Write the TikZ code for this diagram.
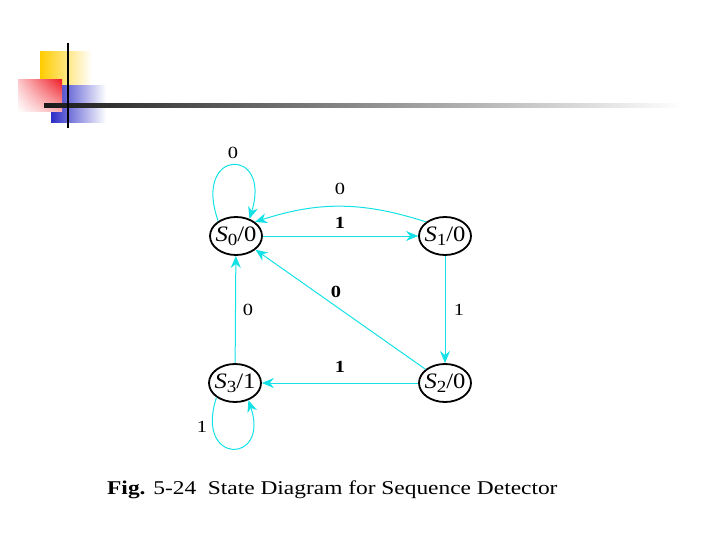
\documentclass[tikz,border=0pt]{standalone}
\usepackage{fontspec}
\setmainfont{Liberation Serif}
\usetikzlibrary{arrows.meta, shapes.geometric, shadings}

\definecolor{edgecyan}{RGB}{20,225,230}
\definecolor{logoyellow}{RGB}{255,204,0}
\definecolor{logored}{RGB}{240,30,40}
\definecolor{logoblue}{RGB}{45,45,200}

% state name S_i/o, slightly widened like the scanned figure
\newcommand{\stname}[2]{\makebox[0pt]{\scalebox{1.12}[1]{\textit{S}\raisebox{-4pt}{\fontsize{17}{17}\selectfont #1}/#2}}}
\newcommand{\wide}[1]{\scalebox{1.2}[1]{#1}}

\begin{document}
\begin{tikzpicture}[
    x=1pt, y=-1pt,
    state/.style={draw, ellipse, line width=1.8pt, minimum width=52pt,
                  minimum height=38pt, inner sep=0pt,
                  font=\fontsize{22}{24}\selectfont},
    edge/.style={-{Stealth[length=12pt, width=10pt]}, edgecyan, line width=1pt},
    lbl/.style={font=\fontsize{17}{18}\selectfont},
    blbl/.style={font=\fontsize{17}{18}\selectfont\bfseries},
]
    \useasboundingbox (0,0) rectangle (720,540);

    %==================== TITLE DECORATION ====================
    \shade[left color=logoyellow, middle color=logoyellow!85, right color=white]
        (40,52) rectangle (92,87);
    \shade[left color=logoblue, middle color=logoblue!85, right color=white]
        (51,86) rectangle (106,123);
    \shade[upper right=logored, upper left=logored!25, lower right=logored!35,
           lower left=white] (18,80) rectangle (62,112);
    \shade[left color=black!90, middle color=black!50, right color=white]
        (44,104) rectangle (682,108);
    \draw[line width=2.6pt] (68,43) -- (68,128);

    %==================== STATES ====================
    \node[state] (s0) at (236,236) {\stname{0}{0}};
    \node[state] (s1) at (445,236) {\stname{1}{0}};
    \node[state] (s2) at (445,383) {\stname{2}{0}};
    \node[state] (s3) at (235,383) {\stname{3}{1}};

    %==================== TRANSITIONS ====================
    \draw[edge] (s0.140) .. controls (192,148) and (272,146) .. (s0.52);
    \node[lbl] (l00) at (233,153) {\wide{0}};

    \draw[edge] (s1.north west) to[bend right=18] (s0.north east);
    \node[lbl] (l10) at (340,189) {\wide{0}};

    \draw[edge] (s0) -- (s1);
    \node[blbl] (l01) at (340,223) {\wide{1}};

    \draw[edge] (s1) -- (s2);
    \node[lbl] (l12) at (459,310) {\wide{1}};

    \draw[edge] (s2) -- (s0);
    \node[blbl] (l20) at (336,292) {\wide{0}};

    \draw[edge] (s2) -- (s3);
    \node[blbl] (l23) at (340,367) {\wide{1}};

    \draw[edge] (s3) -- (s0);
    \node[lbl] (l30) at (248,310) {\wide{0}};

    \draw[edge] (s3.218) .. controls (194,465) and (270,465) .. (s3.308);
    \node[lbl] (l33) at (202,427) {\wide{1}};

    %==================== CAPTION ====================
    \node[font=\fontsize{19.5}{22}\selectfont, anchor=west, inner sep=0pt] (cap) at (107,490)
        {\wide{\textbf{Fig.} 5-24\ \ State Diagram for Sequence Detector}};

\end{tikzpicture}
\end{document}
